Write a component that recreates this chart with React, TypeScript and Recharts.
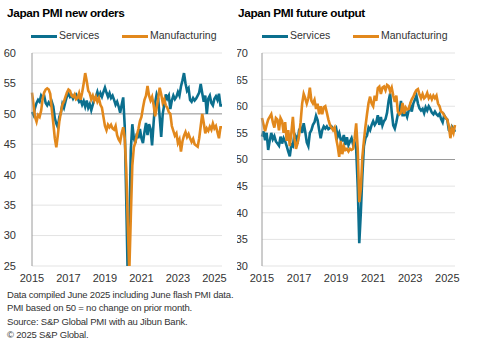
import React from 'react';
import { LineChart, Line, XAxis, YAxis, CartesianGrid, ReferenceLine } from 'recharts';

// monthly, Jan 2015 .. Jun 2025
const servicesNewOrders = [
  50.3, 49.8, 51.0, 51.8, 52.3, 52.0, 53.0, 52.6, 53.0, 51.8, 51.4, 51.9,
  51.5, 52.0, 51.2, 49.3, 48.4, 47.8, 49.5, 50.2, 51.6, 51.0, 52.0, 52.9,
  53.3, 52.8, 53.1, 52.5, 53.0, 53.2, 52.6, 52.0, 52.3, 51.5, 52.1, 51.2,
  52.2, 51.0, 51.6, 50.6, 51.5, 52.4, 52.8, 53.6, 52.7, 53.4, 52.8, 53.6,
  54.3, 53.5, 52.8, 53.4, 52.6, 53.0, 52.3, 51.5, 52.0, 51.2, 50.2, 51.5,
  52.7, 48.0, 36.0, 23.0, 30.0, 44.0, 48.3, 46.0, 45.2, 46.8, 46.0, 47.5,
  46.0, 45.2, 47.0, 48.5, 46.5, 48.3, 47.5, 44.8, 48.5, 51.8, 53.2, 52.5,
  49.5, 46.2, 50.0, 51.5, 53.2, 52.5, 53.0, 50.8, 52.2, 53.0, 52.4, 52.8,
  53.6, 53.0, 54.5, 55.5, 56.7, 55.0, 53.8, 54.2, 52.3, 52.0, 52.6, 52.2,
  52.5, 53.0, 53.5, 54.9, 53.4, 52.0, 53.0, 50.0, 52.5, 53.0, 51.8, 51.4,
  52.5, 52.9, 52.3, 53.3, 51.4, 51.4,
];

const manufacturingNewOrders = [
  53.5, 51.5, 49.5, 48.7, 49.8, 49.5, 50.5, 52.5, 53.5, 54.0, 54.2, 54.0,
  53.3, 50.8, 48.5, 46.0, 44.5, 46.5, 48.8, 50.2, 51.5, 52.0, 52.8, 53.5,
  54.0, 53.8, 53.0, 52.8, 53.2, 52.4, 52.6, 53.4, 52.3, 53.5, 55.0, 56.7,
  55.4, 53.8, 53.4, 52.4, 53.0, 52.2, 52.8, 52.0, 52.6, 51.5, 51.0, 49.5,
  48.0, 47.3, 48.2, 47.8, 48.2, 47.6, 47.4, 48.0, 46.5, 45.8, 45.4, 46.8,
  47.8, 46.0, 41.0, 32.0, 24.0, 33.0, 41.5, 44.5, 45.3, 46.5, 47.5, 48.8,
  49.5, 51.0, 52.3, 53.0, 54.6, 53.0, 52.2, 52.8, 51.5, 49.6, 51.0, 52.5,
  54.3, 53.2, 51.8, 52.4, 51.4, 51.0, 50.3, 50.0, 48.0, 47.2, 46.4, 46.8,
  45.2, 45.8, 43.8, 45.5, 46.4, 47.0, 46.2, 46.7, 46.0, 45.4, 45.9, 45.0,
  44.8, 44.6, 46.0, 48.0, 50.0, 48.5, 46.8, 47.6, 47.2, 47.9, 47.4, 48.4,
  47.6, 48.0, 47.0, 46.0, 47.8, 47.8,
];

const servicesFutureOutput = [
  54.3, 55.3, 53.6, 55.0, 51.8, 53.5, 55.0, 53.8, 54.4, 53.4, 53.0, 52.6,
  54.3, 53.0, 54.0, 53.4, 52.5, 51.5, 50.6, 52.8, 52.5, 54.8, 54.3, 53.0,
  55.5, 56.0, 55.0, 56.8, 55.2, 53.2, 52.5, 55.0, 55.5, 56.5, 57.0, 58.2,
  57.4, 55.6, 54.0, 55.5, 56.2, 55.8, 56.2, 55.7, 55.9, 56.2, 55.8, 55.5,
  55.9, 54.3, 55.0, 53.7, 53.6, 54.6, 52.7, 54.2, 52.7, 53.4, 54.0, 52.8,
  53.2, 52.0, 45.0, 34.3, 40.0, 47.0, 52.5, 54.0, 54.5, 56.0, 55.5, 56.5,
  57.2, 56.5, 57.0, 58.3, 56.5, 58.0, 56.4, 57.2, 57.6, 58.8, 61.0, 62.4,
  59.0, 56.4, 55.8, 57.0, 58.5, 58.8, 61.0, 58.3, 58.3, 58.8, 58.0, 59.2,
  60.2, 59.0, 60.5, 61.2, 62.0, 60.5, 59.6, 59.2, 59.5, 58.7, 59.8, 59.2,
  60.0, 59.5, 58.8, 58.5, 59.0, 58.5, 58.2, 58.6, 57.6, 57.0, 58.3, 57.8,
  57.5, 55.5, 55.2, 56.2, 55.8, 55.2,
];

const manufacturingFutureOutput = [
  57.8, 56.5, 55.3, 56.5, 57.5, 58.0, 58.5, 57.0, 56.0, 57.8, 57.5, 55.5,
  57.8, 57.2, 55.0, 57.0, 53.5, 55.5, 52.5, 55.0, 58.0, 54.0, 52.0, 53.0,
  54.5, 57.0, 60.5, 62.3, 61.5, 60.5, 61.5, 63.5, 61.0, 60.5, 61.2, 59.5,
  60.5, 58.5, 60.0, 58.5, 59.8, 60.0, 58.8, 57.5, 56.5, 56.0, 55.5, 56.0,
  54.0, 52.5, 50.5, 53.5, 51.0, 52.5, 51.8, 52.0, 51.5, 52.0, 51.8, 52.0,
  54.0, 56.8, 52.0, 42.0, 44.5, 50.5, 53.5, 56.2, 58.5, 60.6, 61.8, 60.5,
  60.0, 62.0, 61.0, 63.4, 63.7, 62.3, 63.5, 63.7, 63.0, 64.0, 63.8, 62.8,
  63.5, 62.0, 60.8, 62.0, 59.0, 58.5, 58.8, 60.6, 58.6, 59.8, 59.4, 59.5,
  60.5, 61.3, 61.8, 62.5, 63.0, 63.2, 62.2, 61.5, 62.3, 61.5, 61.8, 62.5,
  61.5, 62.0, 61.3, 62.0, 61.5, 62.0, 60.5, 60.0, 59.0, 58.8, 58.3, 57.8,
  57.5, 56.3, 54.0, 55.8, 55.0, 56.5,
];

const yearTicks = [2015, 2017, 2019, 2021, 2023, 2025];
const newOrdersTicks = [25, 30, 35, 40, 45, 50, 55, 60];
const futureOutputTicks = [30, 35, 40, 45, 50, 55, 60, 65, 70];

const BLUE = '#0b6f8e';
const ORANGE = '#e2881c';
const FONT = '"Liberation Sans", Arial, sans-serif';

const buildRows = (services: number[], manufacturing: number[]) =>
  services.map((s, i) => ({ t: 2015 + i / 12, services: s, manufacturing: manufacturing[i] }));

type PanelProps = {
  title: string;
  titleX: number;
  services: number[];
  manufacturing: number[];
  ticks: number[];
  left: number;
  width: number;
  yWidth: number;
  rightMargin: number;
  tickMargin: number;
  legendX: number;
};

function Panel({ title, titleX, services, manufacturing, ticks, left, width, yWidth, rightMargin, tickMargin, legendX }: PanelProps) {
  const data = buildRows(services, manufacturing);
  const tickStyle = { fontSize: 11, fill: '#333', fontFamily: FONT };
  return (
    <div style={{ position: 'absolute', left, top: 0, width, height: 290 }}>
      <div style={{ position: 'absolute', left: titleX, top: 6, fontSize: 11.8, letterSpacing: -0.35, fontWeight: 'bold', fontFamily: FONT, color: '#000', whiteSpace: 'nowrap' }}>
        {title}
      </div>
      <div style={{ position: 'absolute', left: legendX, top: 35, width: 26, height: 3, background: BLUE }} />
      <div style={{ position: 'absolute', left: legendX + 28, top: 29, fontSize: 10.5, fontFamily: FONT, color: '#333' }}>Services</div>
      <div style={{ position: 'absolute', left: legendX + 91, top: 35, width: 26, height: 3, background: ORANGE }} />
      <div style={{ position: 'absolute', left: legendX + 119, top: 29, fontSize: 10.5, fontFamily: FONT, color: '#333' }}>Manufacturing</div>
      <div style={{ position: 'absolute', left: 0, top: 0 }}>
        <LineChart width={width} height={286} data={data} margin={{ top: 53, right: rightMargin, bottom: 0, left: 0 }}>
          <CartesianGrid vertical={false} stroke="#e3e3e3" strokeWidth={1} />
          <XAxis
            dataKey="t"
            type="number"
            domain={[2015, 2015 + 125 / 12]}
            ticks={yearTicks}
            tickFormatter={(v: number) => String(Math.round(v))}
            axisLine={false}
            tickLine={false}
            tick={tickStyle}
            height={20}
          />
          <YAxis
            domain={[ticks[0], ticks[ticks.length - 1]]}
            ticks={ticks}
            allowDataOverflow
            width={yWidth}
            tickLine={false}
            tickMargin={tickMargin}
            axisLine={{ stroke: '#9a9a9a' }}
            tick={tickStyle}
          />
          <ReferenceLine y={50} stroke="#9a9a9a" strokeWidth={1} />
          <Line dataKey="services" stroke={BLUE} strokeWidth={2.6} dot={false} isAnimationActive={false} />
          <Line dataKey="manufacturing" stroke={ORANGE} strokeWidth={2.6} dot={false} isAnimationActive={false} />
        </LineChart>
      </div>
    </div>
  );
}

const footnotes = [
  'Data compiled June 2025 including June flash PMI data.',
  'PMI based on 50 = no change on prior month.',
  'Source: S&P Global PMI with au Jibun Bank.',
  '\u00a9 2025 S&P Global.',
];

export default function App() {
  return (
    <div style={{ position: 'absolute', left: 0, top: 0, width: 478, height: 352, background: '#fff', overflow: 'hidden' }}>
      <Panel
        title="Japan PMI new orders"
        titleX={7}
        services={servicesNewOrders}
        manufacturing={manufacturingNewOrders}
        ticks={newOrdersTicks}
        left={0}
        width={240}
        yWidth={32}
        rightMargin={18}
        tickMargin={10}
        legendX={31}
      />
      <Panel
        title="Japan PMI future output"
        titleX={1}
        services={servicesFutureOutput}
        manufacturing={manufacturingFutureOutput}
        ticks={futureOutputTicks}
        left={237}
        width={241}
        yWidth={25}
        rightMargin={23}
        tickMargin={8}
        legendX={25}
      />
      <div style={{ position: 'absolute', left: 7, top: 288, fontFamily: FONT, fontSize: 9.5, letterSpacing: -0.2, lineHeight: '13.3px', color: '#333' }}>
        {footnotes.map((f) => (
          <div key={f}>{f}</div>
        ))}
      </div>
    </div>
  );
}
